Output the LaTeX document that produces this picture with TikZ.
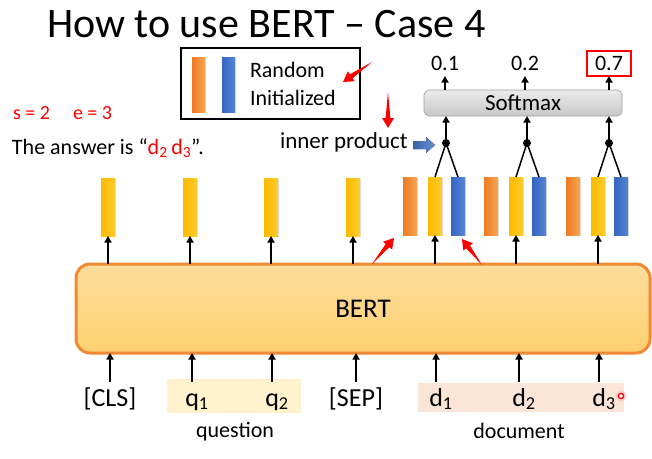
\documentclass[tikz,border=0pt]{standalone}
\usepackage{fontspec}
\setmainfont{Carlito}
\usetikzlibrary{calc,arrows.meta,shadows}
\definecolor{orL}{HTML}{EE7A22}
\definecolor{orR}{HTML}{F9A552}
\definecolor{yeL}{HTML}{FDBA00}
\definecolor{yeR}{HTML}{FFCB2E}
\definecolor{blL}{HTML}{3566C0}
\definecolor{blR}{HTML}{5584D6}
\definecolor{bertT}{HTML}{FDDD9C}
\definecolor{bertB}{HTML}{FFD071}
\definecolor{bertD}{HTML}{EF8A33}
\definecolor{qbg}{HTML}{FFF2CC}
\definecolor{dbg}{HTML}{FBE5D6}
\definecolor{smT}{HTML}{EBEBEB}
\definecolor{smB}{HTML}{C8C8C8}
\definecolor{smD}{HTML}{A0A0A0}
\definecolor{rd}{HTML}{FF0000}
\definecolor{ipblue}{HTML}{4472C4}
\newcommand\fsz[1]{\fontsize{#1}{#1}\selectfont}
\newcommand\taparrow[2]{\fill[rd] let \p1=(#1), \p2=(#2), \p3=($(#2)!10pt!(#1)$) in
  (\p1) -- ($(\p3)!2.4pt!90:(\p2)$) -- ($(\p3)!6pt!90:(\p2)$) -- (\p2)
  -- ($(\p3)!6pt!-90:(\p2)$) -- ($(\p3)!2.4pt!-90:(\p2)$) -- cycle;}
\begin{document}
\begin{tikzpicture}[x=1pt,y=-1pt,
  every node/.style={inner sep=0pt, outer sep=0pt},
  txt/.style={font=\fsz{22}, text=black},
  arr/.style={line width=1.8pt, -{Triangle[length=6.5pt,width=7pt]}},
  barbase/.style={minimum width=14pt, minimum height=58pt,
    drop shadow={shadow xshift=0.8pt,shadow yshift=-0.8pt,opacity=0.25}},
  yelbar/.style={barbase, left color=yeL, right color=yeR},
  orbar/.style={barbase, left color=orL, right color=orR},
  blubar/.style={barbase, left color=blL, right color=blR},
  tok/.style={font=\fsz{26}, text height=17pt, text depth=6pt, anchor=base},
  dotn/.style={circle, fill=black, minimum size=8pt},
  outv/.style={font=\fsz{22}, minimum width=44pt, minimum height=25pt, text height=14pt, text depth=0pt}
]
\useasboundingbox (0,0) rectangle (652,458);

% title
\node[font=\fsz{42}, anchor=base west] (title) at (47,37) {How to use BERT – Case 4};

% legend
\node[draw, line width=1.7pt, minimum width=179pt, minimum height=71pt] (legend) at (270.5,83.5) {};
\node[orbar, minimum height=55pt, minimum width=13pt] (lo) at (198.5,84.5) {};
\node[blubar, minimum height=55pt, minimum width=13pt] (lb) at (228.5,84.5) {};
\node[txt, anchor=base west] (rnd) at (250,77) {Random};
\node[txt, anchor=base west] (ini) at (250,105) {Initialized};

% s, e and answer
\node[font=\fsz{20}, text=rd, anchor=base west] (s) at (13,119) {s = 2};
\node[font=\fsz{20}, text=rd, anchor=base west] (e) at (73,119) {e = 3};
\node[font=\fsz{22}, anchor=base west] (ans) at (12,154) {The answer is “\textcolor{rd}{d\textsubscript{2}\,d\textsubscript{3}}”.};

% inner product
\node[font=\fsz{23}, anchor=base west] (ip) at (280,148) {inner product};
\fill[left color=ipblue!85!black, right color=ipblue!80!white] (413,141) -- (426,141) -- (426,137) -- (435,145) -- (426,153) -- (426,149) -- (413,149) -- cycle;

% BERT
\node[draw=bertD, line width=3pt, rounded corners=14pt, top color=bertT, bottom color=bertB,
  minimum width=574pt, minimum height=89pt, font=\fsz{27}] (bert) at (363,308.5) {BERT};

% highlight boxes
\fill[qbg] (167,379) rectangle (301,413);
\fill[dbg] (418,383) rectangle (624,412);

% tokens
\node[tok] (cls) at (110,406) {[CLS]};
\node[tok] (q1) at (197,406) {q\textsubscript{1}};
\node[tok] (q2) at (277,406) {q\textsubscript{2}};
\node[tok] (sep) at (356,406) {[SEP]};
\node[tok] (d1) at (441,406) {d\textsubscript{1}};
\node[tok] (d2) at (524,406) {d\textsubscript{2}};
\node[tok] (d3) at (604,406) {d\textsubscript{3}};
\node[font=\fsz{22}, anchor=base] (qlab) at (235,437) {question};
\node[font=\fsz{22}, anchor=base] (dlab) at (519,438) {document};

\draw[arr] ([yshift=7pt]cls.north) -- (cls.north |- bert.south);
\foreach \t in {q1,q2,d1,d2,d3}
  \draw[arr] ([xshift=-5pt,yshift=7pt]\t.north) -- ([xshift=-5pt]\t.north |- bert.south);
\draw[arr] ([yshift=7pt]sep.north) -- (sep.north |- bert.south);

% red dot
\fill[rd!25, opacity=0.6] (621,396) circle (5.5pt);
\draw[rd, line width=1.3pt, fill=white] (621,396) circle (2.6pt);

% left yellow bars
\node[yelbar] (y1) at (108,207) {};
\node[yelbar] (y2) at (190,207) {};
\node[yelbar] (y3) at (271,207) {};
\node[yelbar] (y4) at (353,207) {};
\foreach \b in {y1,y2,y3,y4}
  \draw[arr] (bert.north -| \b) -- (\b.south);

% right groups
\foreach \i/\cx in {1/435,2/516,3/598}{
  \node[orbar] (o\i) at (\cx-25,206) {};
  \node[yelbar] (g\i) at (\cx,206) {};
  \node[blubar] (b\i) at (\cx+23,206) {};
  \draw[arr] (bert.north -| g\i) -- (g\i.south);
  \node[dotn] (dt\i) at (\cx+11,143) {};
  \draw[line width=1.5pt] (g\i.north) -- (dt\i.center) -- (b\i.north);
}

% softmax
\node[draw=smD, line width=0.6pt, rounded corners=5pt, top color=smT, bottom color=smB,
  minimum width=198pt, minimum height=26pt, font=\fsz{23}] (soft) at (523,103) {Softmax};
\foreach \i in {1,2,3}
  \draw[arr] (dt\i.center) -- (dt\i |- soft.south);

% outputs
\node[outv] (v1) at (445,63.5) {0.1};
\node[outv] (v2) at (525,63.5) {0.2};
\node[outv, draw=rd, line width=1.5pt] (v3) at (609,63.5) {0.7};
\draw[arr] (v1 |- soft.north) -- (v1.south);
\draw[arr] (v2 |- soft.north) -- (v2.south);
\draw[arr] (v3 |- soft.north) -- (v3.south);

% red annotation arrows
\coordinate (ra1t) at (372,62);  \coordinate (ra1h) at (343,82);
\coordinate (ra2t) at (388,92);  \coordinate (ra2h) at (388,128);
\coordinate (ra3t) at (372,264); \coordinate (ra3h) at (394,238);
\coordinate (ra4t) at (482,265); \coordinate (ra4h) at (462,239);
\taparrow{ra1t}{ra1h}
\taparrow{ra2t}{ra2h}
\taparrow{ra3t}{ra3h}
\taparrow{ra4t}{ra4h}
\end{tikzpicture}
\end{document}
